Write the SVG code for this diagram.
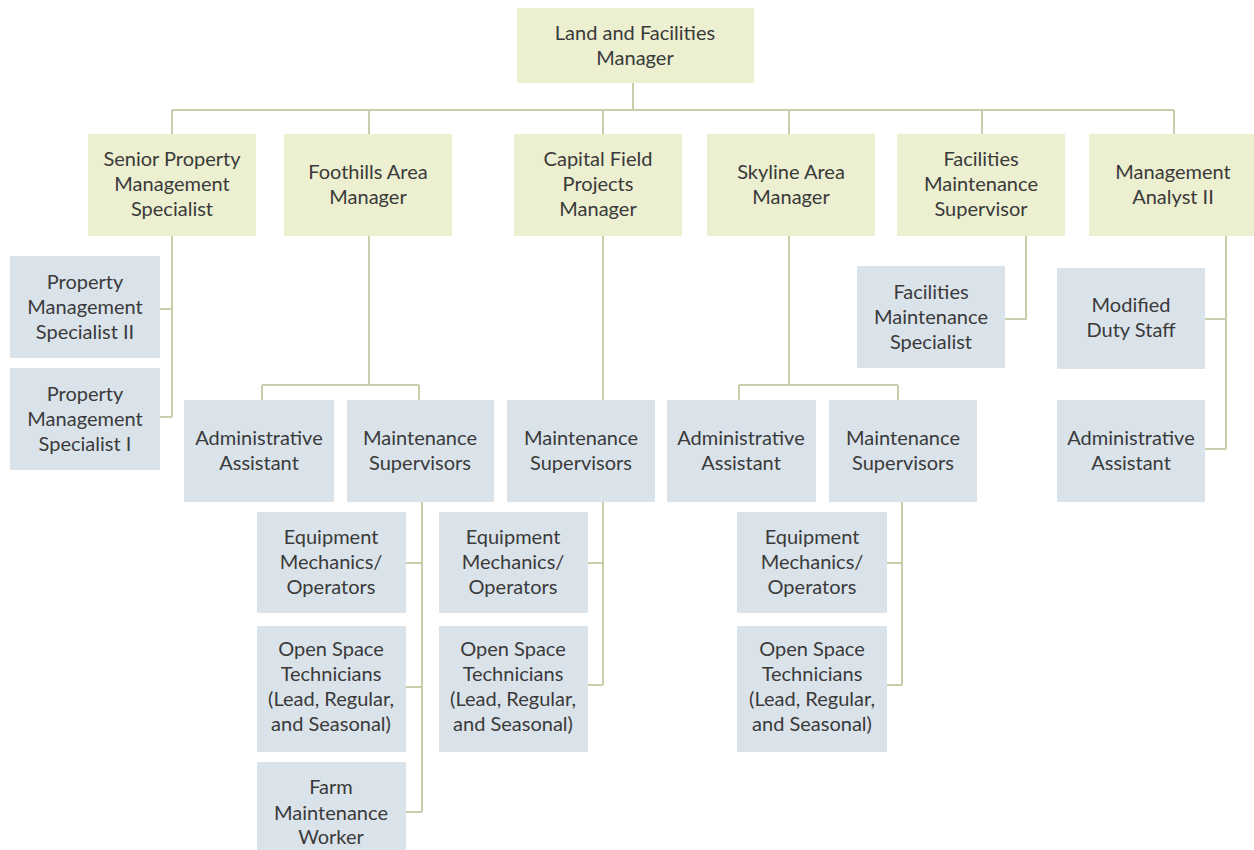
<svg xmlns="http://www.w3.org/2000/svg" width="1254" height="850" viewBox="0 0 1254 850">
<style>
.y{fill:#ecefd0}
.b{fill:#dae3ea}
.t{font-family:Lato,"Liberation Sans",sans-serif;font-size:20px;fill:#3a3a3a;text-anchor:middle}
.c{fill:none;stroke:#c6cfaa;stroke-width:2}
</style>
<rect width="1254" height="850" fill="#ffffff"/>
<g id="connectors" class="c">
<path d="M633 83V110M172 110H1174M172 110V134M369 110V134M603 110V134M789 110V134M982 110V134M1174 110V134"/>
<path d="M172 236V417M160 309H172M160 417H172"/>
<path d="M369 236V385M262 385H419M262 385V400M419 385V400"/>
<path d="M603 236V400"/>
<path d="M789 236V385M739 385H898M739 385V400M898 385V400"/>
<path d="M1026 236V319H1005"/>
<path d="M1226 236V449M1205 319H1226M1205 449H1226"/>
<path d="M422 502V812M406 563H422M406 687H422M406 812H422"/>
<path d="M603 502V685M588 563H603M588 685H603"/>
<path d="M902 502V685M887 563H902M887 685H902"/>
</g>
<g id="n-land"><rect class="y" x="517" y="8" width="237" height="75"/><text class="t"><tspan x="635" y="40">Land and Facilities</tspan><tspan x="635" y="65">Manager</tspan></text></g>
<g id="n-senior"><rect class="y" x="88" y="134" width="168" height="102"/><text class="t"><tspan x="172" y="166">Senior Property</tspan><tspan x="172" y="191">Management</tspan><tspan x="172" y="216">Specialist</tspan></text></g>
<g id="n-foothills"><rect class="y" x="284" y="134" width="168" height="102"/><text class="t"><tspan x="368" y="179">Foothills Area</tspan><tspan x="368" y="204">Manager</tspan></text></g>
<g id="n-capital"><rect class="y" x="514" y="134" width="168" height="102"/><text class="t"><tspan x="598" y="166">Capital Field</tspan><tspan x="598" y="191">Projects</tspan><tspan x="598" y="216">Manager</tspan></text></g>
<g id="n-skyline"><rect class="y" x="707" y="134" width="168" height="102"/><text class="t"><tspan x="791" y="179">Skyline Area</tspan><tspan x="791" y="204">Manager</tspan></text></g>
<g id="n-facsup"><rect class="y" x="897" y="134" width="168" height="102"/><text class="t"><tspan x="981" y="166">Facilities</tspan><tspan x="981" y="191">Maintenance</tspan><tspan x="981" y="216">Supervisor</tspan></text></g>
<g id="n-analyst"><rect class="y" x="1089" y="134" width="168" height="102"/><text class="t"><tspan x="1173" y="179">Management</tspan><tspan x="1173" y="204">Analyst II</tspan></text></g>
<g id="n-pms2"><rect class="b" x="10" y="256" width="150" height="102"/><text class="t"><tspan x="85" y="289">Property</tspan><tspan x="85" y="314">Management</tspan><tspan x="85" y="339">Specialist II</tspan></text></g>
<g id="n-pms1"><rect class="b" x="10" y="368" width="150" height="102"/><text class="t"><tspan x="85" y="401">Property</tspan><tspan x="85" y="426">Management</tspan><tspan x="85" y="451">Specialist I</tspan></text></g>
<g id="n-fms"><rect class="b" x="857" y="266" width="148" height="102"/><text class="t"><tspan x="931" y="299">Facilities</tspan><tspan x="931" y="324">Maintenance</tspan><tspan x="931" y="349">Specialist</tspan></text></g>
<g id="n-mds"><rect class="b" x="1057" y="268" width="148" height="101"/><text class="t"><tspan x="1131" y="312">Modified</tspan><tspan x="1131" y="337">Duty Staff</tspan></text></g>
<g id="n-admin-f"><rect class="b" x="184" y="400" width="150" height="102"/><text class="t"><tspan x="259" y="445">Administrative</tspan><tspan x="259" y="470">Assistant</tspan></text></g>
<g id="n-maint-f"><rect class="b" x="347" y="400" width="147" height="102"/><text class="t"><tspan x="420" y="445">Maintenance</tspan><tspan x="420" y="470">Supervisors</tspan></text></g>
<g id="n-maint-c"><rect class="b" x="507" y="400" width="148" height="102"/><text class="t"><tspan x="581" y="445">Maintenance</tspan><tspan x="581" y="470">Supervisors</tspan></text></g>
<g id="n-admin-s"><rect class="b" x="667" y="400" width="149" height="102"/><text class="t"><tspan x="741" y="445">Administrative</tspan><tspan x="741" y="470">Assistant</tspan></text></g>
<g id="n-maint-s"><rect class="b" x="829" y="400" width="148" height="102"/><text class="t"><tspan x="903" y="445">Maintenance</tspan><tspan x="903" y="470">Supervisors</tspan></text></g>
<g id="n-admin-r"><rect class="b" x="1057" y="400" width="148" height="102"/><text class="t"><tspan x="1131" y="445">Administrative</tspan><tspan x="1131" y="470">Assistant</tspan></text></g>
<g id="n-equip-f"><rect class="b" x="257" y="512" width="149" height="101"/><text class="t"><tspan x="331" y="544">Equipment</tspan><tspan x="331" y="569">Mechanics/</tspan><tspan x="331" y="594">Operators</tspan></text></g>
<g id="n-open-f"><rect class="b" x="257" y="626" width="149" height="126"/><text class="t"><tspan x="331" y="656">Open Space</tspan><tspan x="331" y="681">Technicians</tspan><tspan x="331" y="706">(Lead, Regular,</tspan><tspan x="331" y="731">and Seasonal)</tspan></text></g>
<g id="n-farm-f"><rect class="b" x="257" y="762" width="149" height="100"/><text class="t"><tspan x="331" y="794">Farm</tspan><tspan x="331" y="820">Maintenance</tspan><tspan x="331" y="844">Worker</tspan></text></g>
<g id="n-equip-c"><rect class="b" x="439" y="512" width="149" height="101"/><text class="t"><tspan x="513" y="544">Equipment</tspan><tspan x="513" y="569">Mechanics/</tspan><tspan x="513" y="594">Operators</tspan></text></g>
<g id="n-open-c"><rect class="b" x="439" y="626" width="149" height="126"/><text class="t"><tspan x="513" y="656">Open Space</tspan><tspan x="513" y="681">Technicians</tspan><tspan x="513" y="706">(Lead, Regular,</tspan><tspan x="513" y="731">and Seasonal)</tspan></text></g>
<g id="n-equip-s"><rect class="b" x="737" y="512" width="150" height="101"/><text class="t"><tspan x="812" y="544">Equipment</tspan><tspan x="812" y="569">Mechanics/</tspan><tspan x="812" y="594">Operators</tspan></text></g>
<g id="n-open-s"><rect class="b" x="737" y="626" width="150" height="126"/><text class="t"><tspan x="812" y="656">Open Space</tspan><tspan x="812" y="681">Technicians</tspan><tspan x="812" y="706">(Lead, Regular,</tspan><tspan x="812" y="731">and Seasonal)</tspan></text></g>
</svg>
